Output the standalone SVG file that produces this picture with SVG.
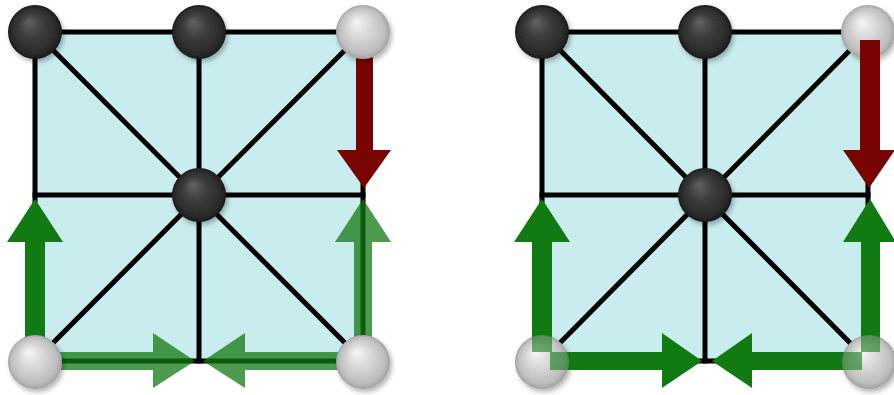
<svg xmlns="http://www.w3.org/2000/svg" width="894" height="395" viewBox="0 0 894 395">
<style>
.cell{fill:#c9edee;stroke:none}
.ln{stroke:#000;stroke-width:5;fill:none;stroke-linecap:square}
.gs{fill:#117a13}
.gt{fill:#117a13;opacity:0.75}
.rd{fill:#770303}
.dk{fill:url(#gDark);filter:url(#sh)}
.lt{fill:url(#gLight);filter:url(#sh)}
</style>
<defs>
<radialGradient id="gDark" cx="0.5" cy="0.5" r="0.5" fx="0.38" fy="0.3">
<stop offset="0" stop-color="#626262"/>
<stop offset="0.45" stop-color="#3c3c3c"/>
<stop offset="0.85" stop-color="#2a2a2a"/>
<stop offset="1" stop-color="#1a1a1a"/>
</radialGradient>
<radialGradient id="gLight" cx="0.5" cy="0.5" r="0.5" fx="0.38" fy="0.3">
<stop offset="0" stop-color="#f6f6f6"/>
<stop offset="0.5" stop-color="#d4d4d4"/>
<stop offset="0.85" stop-color="#bdbdbd"/>
<stop offset="1" stop-color="#a2a2a2"/>
</radialGradient>
<filter id="sh" x="-30%" y="-30%" width="160%" height="160%">
<feGaussianBlur in="SourceAlpha" stdDeviation="2.5"/>
<feOffset dx="2" dy="3" result="b"/>
<feComponentTransfer><feFuncA type="linear" slope="0.3"/></feComponentTransfer>
<feMerge><feMergeNode/><feMergeNode in="SourceGraphic"/></feMerge>
</filter>
</defs>

<!-- LEFT PANEL -->
<rect class="cell" x="35" y="32" width="328" height="329"/>
<g id="connectors-left">
<rect class="ln" x="35" y="32" width="328" height="329"/>
<line class="ln" x1="35" y1="195" x2="363" y2="195"/>
<line class="ln" x1="199" y1="32" x2="199" y2="361"/>
<line class="ln" x1="35" y1="32" x2="363" y2="361"/>
<line class="ln" x1="363" y1="32" x2="35" y2="361"/>
<path class="rd" d="M356 32H373V150H391L364 188L337 150H356Z"/>
<path class="gs" d="M25 361V242H7L35 199L63 242H45V361Z"/>
<path class="gt" d="M354 361V242H335L363 199L391 242H372V361Z"/>
<path class="gt" d="M35 352H153V333L195 361L153 388V370H35Z"/>
<path class="gt" d="M363 352H245V333L203 361L245 388V370H363Z"/>
</g>
<g id="n-l-tl"><circle class="dk" cx="35" cy="32" r="27"/></g>
<g id="n-l-tm"><circle class="dk" cx="199" cy="32" r="27"/></g>
<g id="n-l-tr"><circle class="lt" cx="363" cy="32" r="27"/></g>
<g id="n-l-c"><circle class="dk" cx="199" cy="195" r="27"/></g>
<g id="n-l-bl"><circle class="lt" cx="35" cy="362" r="27"/></g>
<g id="n-l-br"><circle class="lt" cx="363" cy="362" r="27"/></g>

<!-- RIGHT PANEL -->
<rect class="cell" x="542" y="32" width="326" height="329"/>
<g id="connectors-right-lines">
<rect class="ln" x="542" y="32" width="326" height="329"/>
<line class="ln" x1="542" y1="195" x2="868" y2="195"/>
<line class="ln" x1="705" y1="32" x2="705" y2="361"/>
<line class="ln" x1="542" y1="32" x2="868" y2="361"/>
<line class="ln" x1="868" y1="32" x2="542" y2="361"/>
</g>
<g id="n-r-tl"><circle class="dk" cx="542" cy="32" r="27"/></g>
<g id="n-r-tm"><circle class="dk" cx="705" cy="32" r="27"/></g>
<g id="n-r-tr"><circle class="lt" cx="868" cy="32" r="27"/></g>
<g id="n-r-c"><circle class="dk" cx="705" cy="195" r="27"/></g>
<g id="n-r-bl"><circle class="lt" cx="542" cy="362" r="27"/></g>
<g id="n-r-br"><circle class="lt" cx="869" cy="362" r="27"/></g>
<g id="connectors-right-arrows">
<path class="rd" d="M860 40H880V150H895L869 188L843 150H860Z"/>
<path class="gs" d="M532 352V242H514L542 199L570 242H552V352Z"/>
<path class="gs" d="M861 352V242H843L870 199L896 242H880V352Z"/>
<path class="gs" d="M550 352H662V333L702 361L662 388V370H550Z"/>
<path class="gs" d="M862 352H752V333L712 361L752 388V370H862Z"/>
</g>
<g opacity="0.4">
<circle fill="url(#gLight)" cx="542" cy="362" r="27"/>
<circle fill="url(#gLight)" cx="869" cy="362" r="27"/>
</g>
</svg>
